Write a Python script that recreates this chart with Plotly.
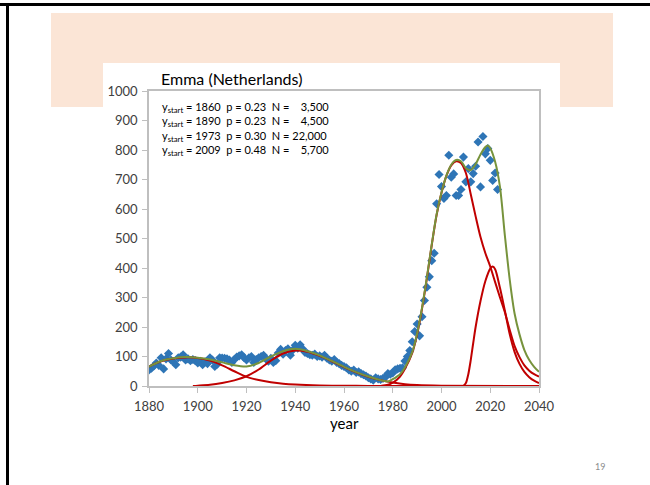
import plotly.graph_objects as go

# ---------------- data ----------------
obs_years = list(range(1880, 2024))
obs_values = [
    54, 60, 68, 78, 70, 96, 58, 92, 110, 88,          # 1880-1889
    82, 72, 96, 98, 106, 88, 92, 86, 90, 86,          # 1890-1899
    78, 84, 72, 82, 76, 96, 88, 66, 74, 96,           # 1900-1909
    95, 94, 92, 88, 80, 90, 98, 102, 106, 96,         # 1910-1919
    88, 96, 100, 80, 90, 96, 100, 104, 92, 84,        # 1920-1929
    94, 80, 86, 112, 124, 108, 120, 126, 104, 122,    # 1930-1939
    138, 128, 140, 126, 114, 110, 106, 104, 108, 100, # 1940-1949
    102, 98, 104, 94, 88, 84, 90, 80, 76, 70,         # 1950-1959
    66, 62, 54, 50, 54, 46, 48, 42, 38, 34,           # 1960-1969
    28, 24, 20, 28, 24, 22, 26, 30, 42, 40,           # 1970-1979
    44, 55, 58, 60, 62, 85, 100, 120, 150, 185,       # 1980-1989
    210, 170, 235, 290, 335, 370, 425, 450, 618, 717, # 1990-1999
    676, 636, 646, 782, 708, 719, 646, 646, 666, 776, # 2000-2009
    692, 737, 692, 720, 745, 827, 675, 846, 787, 805, # 2010-2019
    765, 697, 722, 666,                               # 2020-2023
]

c1_years = [1880, 1885, 1890, 1895, 1900, 1905, 1910, 1915, 1920, 1925, 1930,
            1935, 1940, 1950, 1960, 1970, 1980, 2040]
c1_values = [66, 84, 93, 97, 95, 86, 70, 50, 31, 20, 13, 8, 5, 2, 1, 0.3, 0, 0]

c2_years = [1898, 1900, 1905, 1910, 1915, 1920, 1925, 1930, 1935, 1940, 1945,
            1950, 1955, 1960, 1965, 1970, 1975, 1980, 1985, 1990, 2000, 2040]
c2_values = [0, 1, 4, 10, 19, 33, 56, 86, 110, 120, 116, 102, 84, 64, 46, 31,
             20, 12, 6, 3, 1, 0]

c3_years = [1975, 1978, 1980, 1983, 1985, 1988, 1990, 1992, 1994, 1996, 1998,
            2000, 2002, 2004, 2006, 2008, 2010, 2012, 2014, 2016, 2018, 2020,
            2022, 2024, 2026, 2028, 2030, 2032, 2034, 2036, 2038, 2040]
c3_values = [0, 4, 11, 32, 58, 112, 175, 262, 365, 478, 580, 655, 712, 748,
             762, 756, 722, 650, 575, 505, 450, 405, 352, 300, 250, 190, 135,
             98, 70, 52, 40, 32]

c4_years = [2009, 2010, 2011, 2012, 2013, 2014, 2016, 2018, 2020, 2021, 2022,
            2024, 2026, 2028, 2030, 2032, 2034, 2036, 2038, 2040]
c4_values = [0, 10, 40, 88, 145, 200, 288, 356, 398, 405, 396, 332, 255, 175,
             115, 75, 48, 30, 18, 10]

fit_years = [1880, 1885, 1890, 1895, 1900, 1905, 1910, 1915, 1920, 1925, 1930,
             1935, 1940, 1945, 1950, 1955, 1960, 1965, 1970, 1975, 1978, 1980,
             1983, 1985, 1988, 1990, 1992, 1994, 1996, 1998, 2000, 2002, 2004,
             2006, 2008, 2010, 2012, 2014, 2016, 2018, 2019, 2020, 2022, 2024,
             2026, 2028, 2030, 2032, 2034, 2036, 2038, 2040]
fit_values = [66, 85, 94, 98, 96, 90, 80, 70, 66, 78, 100, 118, 126, 118, 104,
              85, 65, 47, 32, 20, 15, 23, 40, 63, 115, 178, 265, 368, 480, 582,
              656, 713, 750, 766, 762, 738, 732, 752, 785, 810, 815, 806, 760,
              674, 510, 360, 245, 175, 122, 88, 65, 48]

x_ticks = [1880, 1900, 1920, 1940, 1960, 1980, 2000, 2020, 2040]
y_ticks = [0, 100, 200, 300, 400, 500, 600, 700, 800, 900, 1000]

legend_lines = [
    ("1860", "0.23", "\u00a0\u00a0 3,500"),
    ("1890", "0.23", "\u00a0\u00a0 4,500"),
    ("1973", "0.30", "22,000"),
    ("2009", "0.48", "\u00a0\u00a0 5,700"),
]

# ---------------- figure ----------------
FONT = "Lato"
W, H = 650, 485
L, R, T, B = 149, 539, 91, 386   # plot area in pixels


def px(x):
    return (x - L) / (R - L)


def py(y):
    return (B - y) / (B - T)


RED = "#C00000"
GREEN = "#77933C"
BLUE = "#2E75B6"

fig = go.Figure()
fig.add_trace(go.Scatter(x=obs_years, y=obs_values, mode="markers",
                         marker=dict(symbol="diamond", size=7, color=BLUE),
                         showlegend=False, cliponaxis=True))
for xs, ys in [(c1_years, c1_values), (c2_years, c2_values),
               (c3_years, c3_values), (c4_years, c4_values)]:
    fig.add_trace(go.Scatter(x=xs, y=ys, mode="lines",
                             line=dict(color=RED, width=2, shape="spline",
                                       smoothing=0.8),
                             showlegend=False))
fig.add_trace(go.Scatter(x=fit_years, y=fit_values, mode="lines",
                         line=dict(color=GREEN, width=2, shape="spline",
                                   smoothing=0.8),
                         showlegend=False))

shapes = [
    # peach header band
    dict(type="rect", xref="paper", yref="paper", x0=px(51), x1=px(613),
         y0=py(107), y1=py(13), fillcolor="#FBE5D6", line=dict(width=0),
         layer="below"),
    # white chart box
    dict(type="rect", xref="paper", yref="paper", x0=px(103), x1=px(560),
         y0=py(485), y1=py(63), fillcolor="white", line=dict(width=0),
         layer="below"),
    # black slide border (top and left)
    dict(type="rect", xref="paper", yref="paper", x0=px(0), x1=px(650),
         y0=py(6), y1=py(3), fillcolor="black", line=dict(width=0),
         layer="below"),
    dict(type="rect", xref="paper", yref="paper", x0=px(6), x1=px(9),
         y0=py(485), y1=py(3), fillcolor="black", line=dict(width=0),
         layer="below"),
]

annotations = [
    dict(text="Emma (Netherlands)", xref="paper", yref="paper", x=px(159),
         y=py(78), xanchor="left", yanchor="middle", showarrow=False,
         font=dict(family=FONT, size=16, color="#000000")),
    dict(text="year", xref="paper", yref="paper", x=px(344), y=py(423),
         xanchor="center", yanchor="middle", showarrow=False,
         font=dict(family=FONT, size=15, color="#000000")),
    dict(text="19", xref="paper", yref="paper", x=px(600), y=py(467),
         xanchor="center", yanchor="middle", showarrow=False,
         font=dict(family=FONT, size=9, color="#8C8C8C")),
]
for i, (ys, p, n) in enumerate(legend_lines):
    annotations.append(dict(
        text=f"y<sub>start</sub> = {ys}\u00a0 p = {p}\u00a0 N = {n}",
        xref="paper", yref="paper", x=px(160), y=py(107 + 14.5 * i),
        xanchor="left", yanchor="middle", showarrow=False,
        font=dict(family=FONT, size=11, color="#000000")))

fig.update_layout(
    width=W, height=H,
    margin=dict(l=L, r=W - R, t=T, b=H - B, pad=0),
    paper_bgcolor="white", plot_bgcolor="white",
    shapes=shapes, annotations=annotations,
    font=dict(family=FONT, size=13, color="#404040"),
)
fig.update_xaxes(range=[1880, 2040], tickvals=x_ticks, showgrid=False,
                 zeroline=False, showline=True, linecolor="#BFBFBF",
                 linewidth=1.5, mirror=True, ticks="outside", ticklen=5,
                 tickcolor="#BFBFBF", ticklabelstandoff=3,
                 tickfont=dict(family=FONT, size=13, color="#404040"))
fig.update_yaxes(range=[0, 1000], tickvals=y_ticks, showgrid=False,
                 zeroline=False, showline=True, linecolor="#BFBFBF",
                 linewidth=1.5, mirror=True, ticks="outside", ticklen=5,
                 tickcolor="#BFBFBF", ticklabelstandoff=2,
                 tickfont=dict(family=FONT, size=13, color="#404040"))

fig.write_html("out.html",
               config={"displayModeBar": False},
               post_script="document.body.style.margin='0';"
                           "document.body.style.padding='0';")
